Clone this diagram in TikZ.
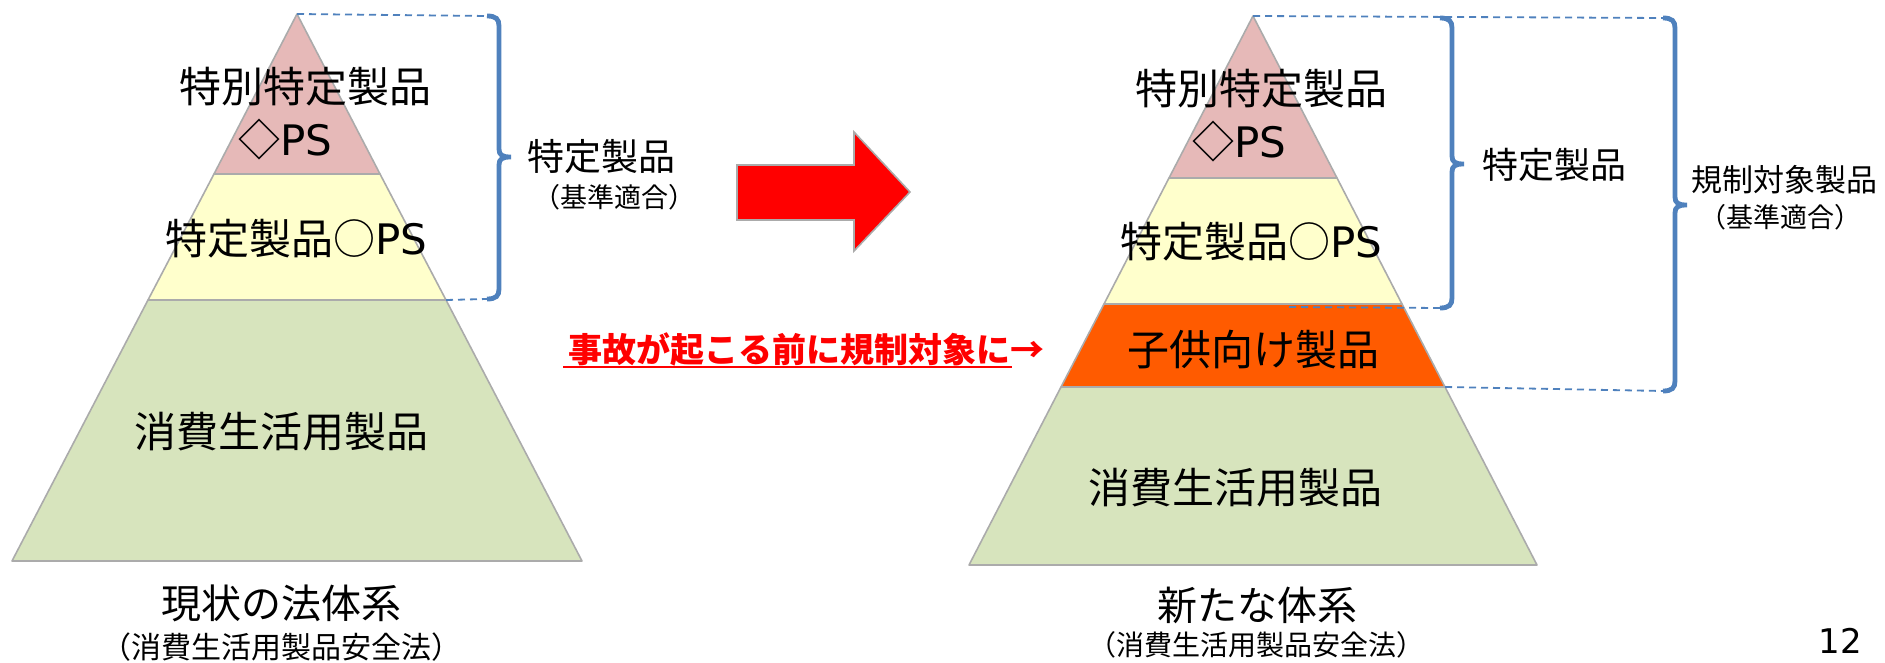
\documentclass[tikz,border=0pt]{standalone}
\usepackage{fontspec}
\setmainfont{Noto Sans CJK JP}
\newfontfamily\latinfont{DejaVu Sans}
\definecolor{tierpink}{HTML}{E6B9B8}
\definecolor{tieryellow}{HTML}{FFFFCC}
\definecolor{tiergreen}{HTML}{D7E4BD}
\definecolor{tierorange}{HTML}{FF5B00}
\definecolor{edgegrey}{HTML}{ABABAB}
\definecolor{braceblue}{HTML}{4F81BD}
\definecolor{arrowred}{HTML}{FF0000}
\newcommand\fs[1]{\fontsize{#1}{#1}\selectfont}
\newcommand\sidebrace[4]{%
  \draw[bracestyle] (#1-12,#2) .. controls (#1-3,#2) and (#1,#2+3) .. (#1,#2+10)
    -- (#1,#4-8) .. controls (#1,#4-2) and (#1+3,#4) .. (#1+12,#4)
    (#1+12,#4) .. controls (#1+3,#4) and (#1,#4+2) .. (#1,#4+8)
    -- (#1,#3-10) .. controls (#1,#3-3) and (#1-3,#3) .. (#1-12,#3);}
\begin{document}
\begin{tikzpicture}[x=1pt,y=-1pt,
  tier/.style={draw=edgegrey, line width=1.6pt, line join=round},
  bracestyle/.style={draw=braceblue, line width=4.8pt},
  guide/.style={draw=braceblue, line width=1.8pt, dash pattern=on 7pt off 5pt},
  lbl/.style={inner sep=0pt, text=black, font=\fs{42}},
  title/.style={inner sep=0pt, text=black, font=\fs{40}},
  sub/.style={inner sep=0pt, text=black},
  note/.style={inner sep=0pt, text=black}]
\useasboundingbox (0,0) rectangle (1885,663);

% ---------- left pyramid ----------
\coordinate (LA) at (297,14);
\filldraw[tier, fill=tierpink] (LA) -- (380,174) -- (214,174) -- cycle;
\filldraw[tier, fill=tieryellow] (214,174) -- (380,174) -- (446,300) -- (148,300) -- cycle;
\filldraw[tier, fill=tiergreen] (148,300) -- (446,300) -- (582,561) -- (12,561) -- cycle;
\coordinate (LB) at (446,300);

\node[lbl] (l1) at (305,87) {特別特定製品};
\node[lbl] (l2) at (285,140) {◇{\latinfont PS}};
\node[lbl] (l3) at (296,239) {特定製品○{\latinfont PS}};
\node[lbl] (l4) at (281,432) {消費生活用製品};
\node[title] (l5) at (281,603) {現状の法体系};
\node[sub, font=\fs{30}] (l6) at (281,647) {（消費生活用製品安全法）};

% left bracket
\coordinate (LBt) at (487,16);
\coordinate (LBb) at (487,299);
\draw[guide] (LA) -- (LBt);
\draw[guide] (LB) -- (LBb);
\sidebrace{499}{16}{299}{157}
\node[note, font=\fs{37}] (lb1) at (601,157) {特定製品};
\node[note, font=\fs{27}] (lb2) at (614,197) {（基準適合）};

% ---------- big red arrow ----------
\filldraw[fill=arrowred, draw=edgegrey, line width=1.6pt, line join=miter]
  (737,165) -- (854,165) -- (854,132) -- (910,192) -- (854,251) -- (854,220) -- (737,220) -- cycle;

% ---------- red note ----------
\node[inner sep=0pt, text=arrowred, font=\fs{34}\bfseries] (rn) at (806,349) {事故が起こる前に規制対象に→};
\draw[arrowred, line width=2.6pt] (563,367) -- (1012,367);

% ---------- right pyramid ----------
\coordinate (RA) at (1253,16);
\filldraw[tier, fill=tierpink] (RA) -- (1337,178) -- (1169,178) -- cycle;
\filldraw[tier, fill=tieryellow] (1169,178) -- (1337,178) -- (1402,304) -- (1104,304) -- cycle;
\filldraw[tier, fill=tierorange] (1104,304) -- (1402,304) -- (1445,387) -- (1061,387) -- cycle;
\filldraw[tier, fill=tiergreen] (1061,387) -- (1445,387) -- (1537,565) -- (969,565) -- cycle;
\coordinate (RC) at (1445,387);
\coordinate (RD) at (1289,307);

\node[lbl] (r1) at (1261,89) {特別特定製品};
\node[lbl] (r2) at (1239,142) {◇{\latinfont PS}};
\node[lbl] (r3) at (1251,242) {特定製品○{\latinfont PS}};
\node[lbl] (r4) at (1253,350) {子供向け製品};
\node[lbl] (r5) at (1235,488) {消費生活用製品};
\node[title] (r6) at (1257,605) {新たな体系};
\node[sub, font=\fs{28}] (r7) at (1256,645) {（消費生活用製品安全法）};

% right brackets
\coordinate (R1b) at (1440,308);
\coordinate (R2t) at (1663,18);
\coordinate (R2b) at (1663,391);
\draw[guide] (RA) -- (R2t);
\draw[guide] (RD) -- (R1b);
\draw[guide] (RC) -- (R2b);
\sidebrace{1452}{18}{308}{164}
\sidebrace{1675}{18}{391}{205}
\node[note, font=\fs{36}] (rb1) at (1554,165) {特定製品};
\node[note, font=\fs{31}] (rb2) at (1784,180) {規制対象製品};
\node[note, font=\fs{27}] (rb3) at (1780,217) {（基準適合）};

% page number
\node[inner sep=0pt, anchor=north, font=\latinfont\fs{34}] (pg) at (1840,628) {12};
\end{tikzpicture}
\end{document}
